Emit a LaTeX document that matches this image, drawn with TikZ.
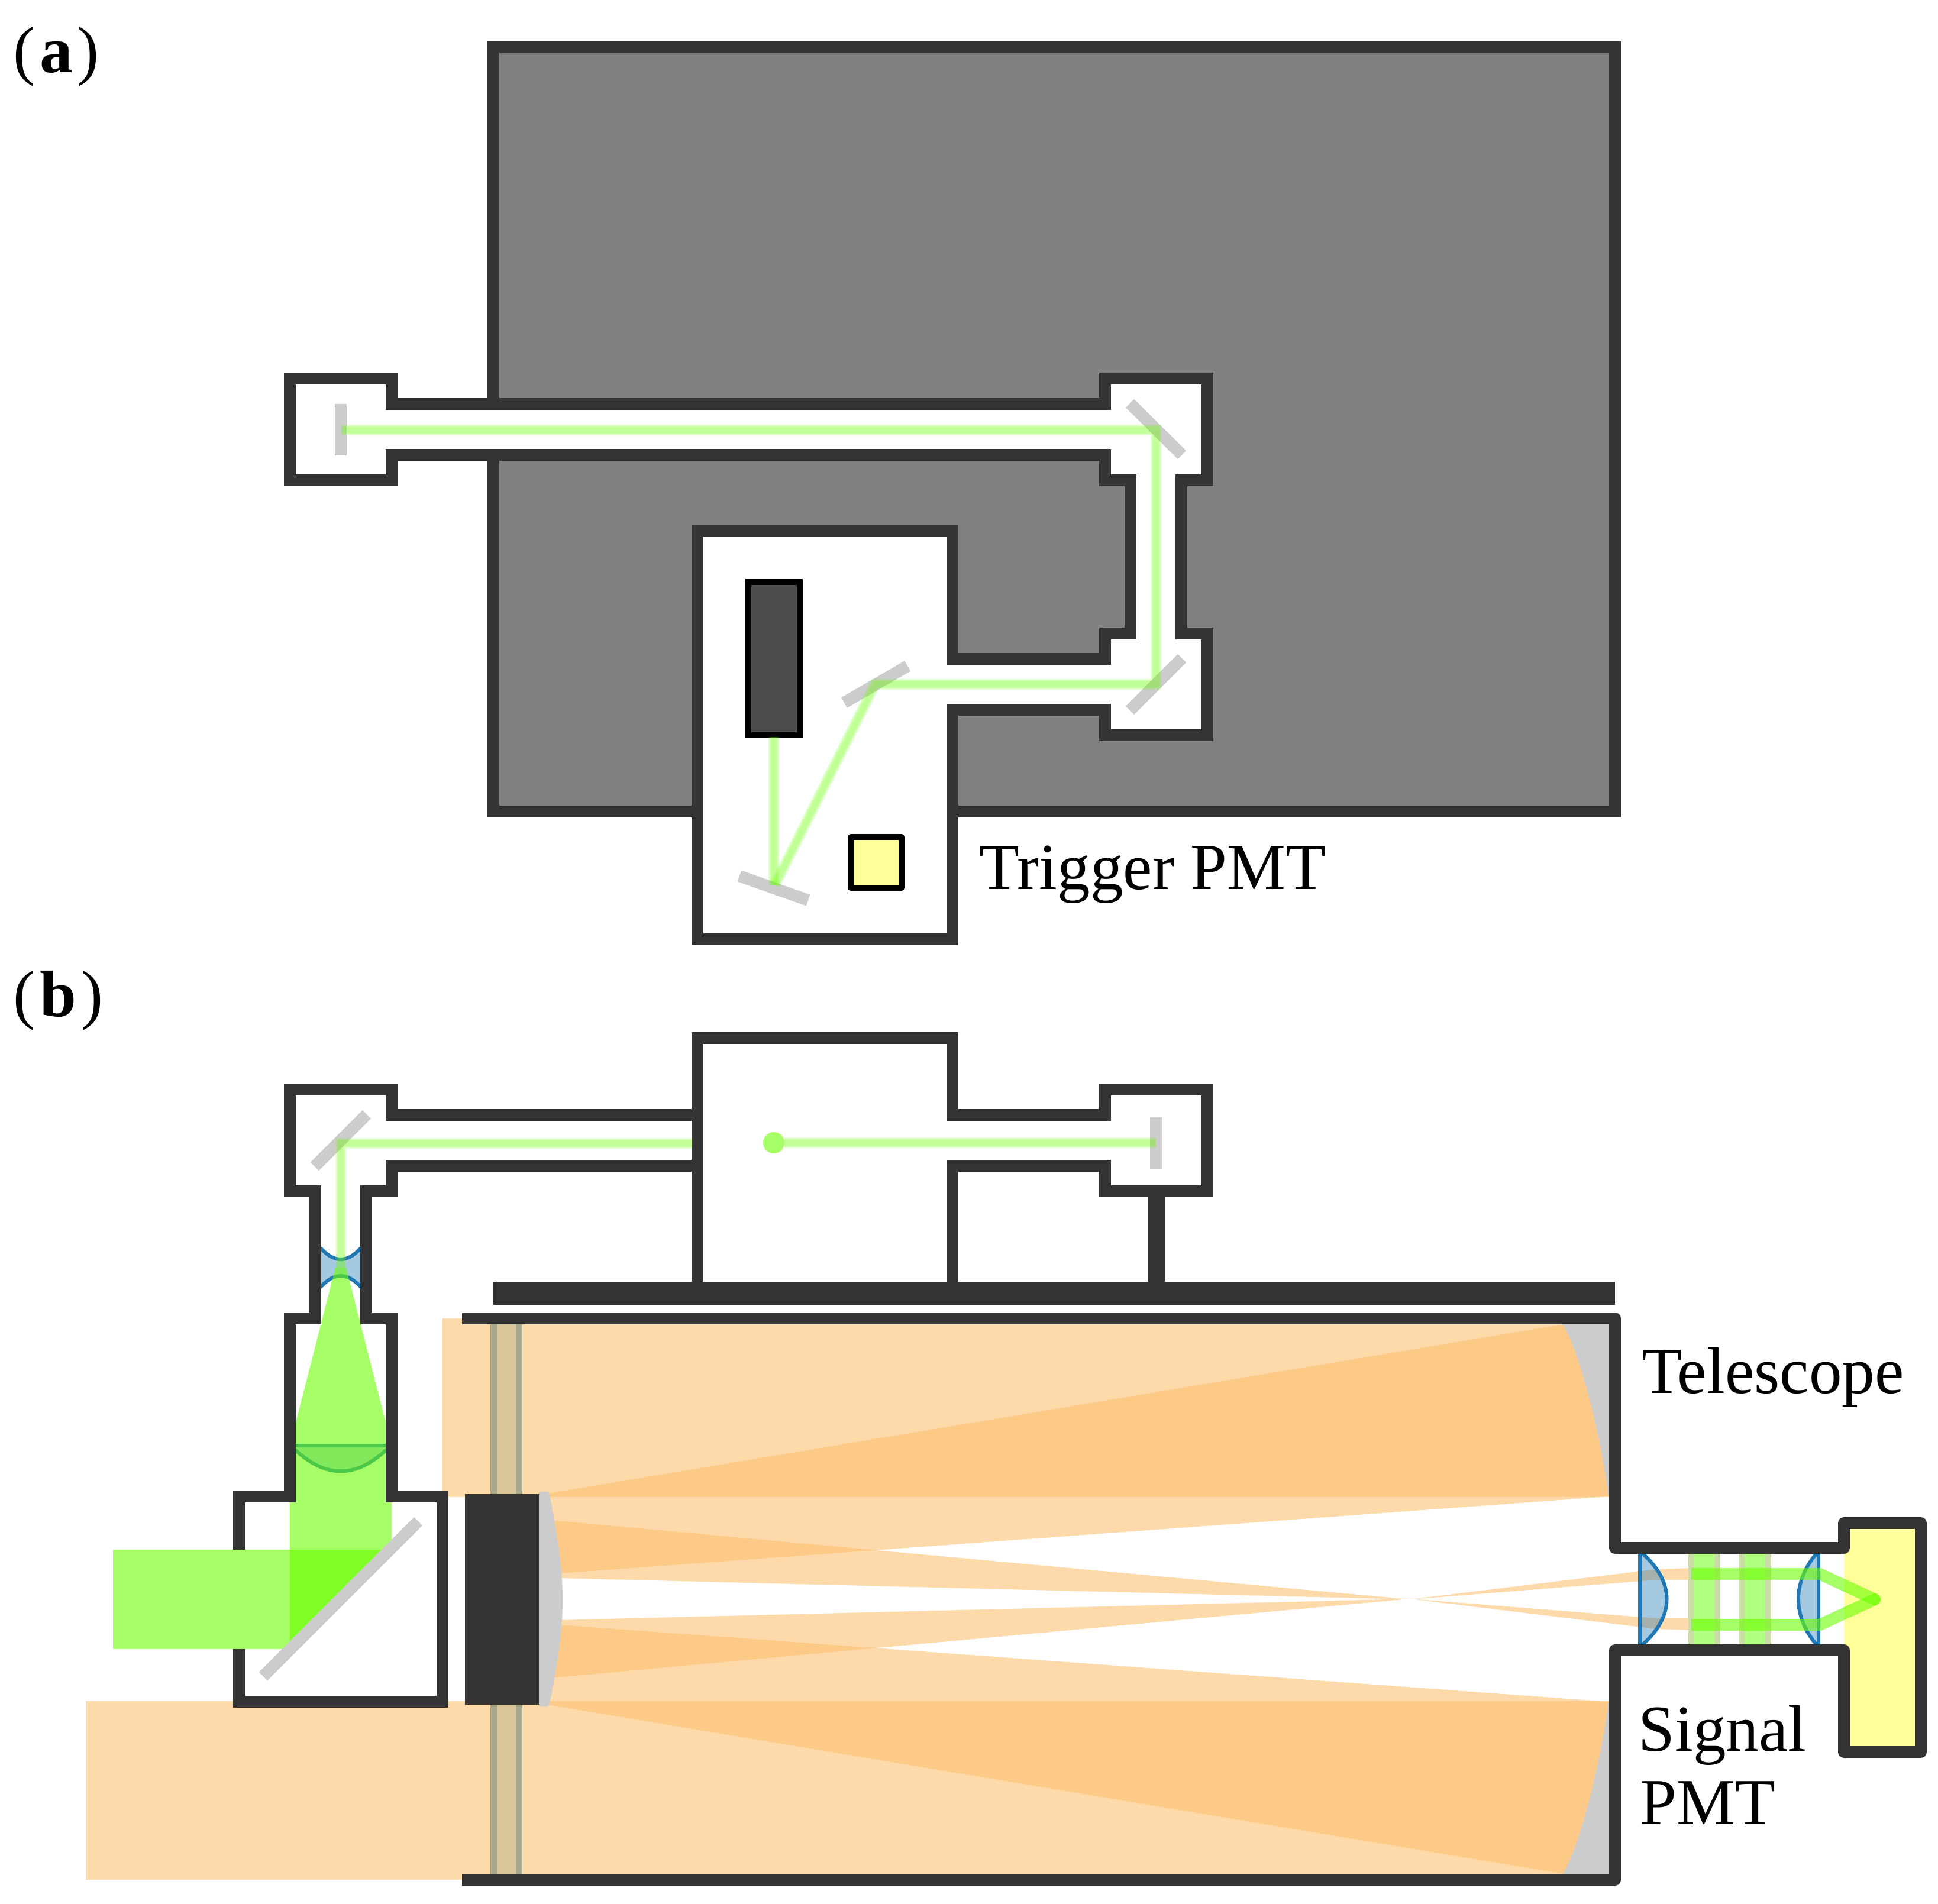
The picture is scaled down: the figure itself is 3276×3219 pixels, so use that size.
\documentclass[tikz,border=0pt]{standalone}
\usepackage{fontspec}
\setmainfont{Liberation Serif}

\definecolor{wallgray}{HTML}{333333}
\definecolor{mirrorgray}{HTML}{CCCCCC}
\definecolor{blockgray}{HTML}{808080}
\definecolor{lasergreen}{HTML}{6AFF00}
\definecolor{skyorange}{HTML}{FDBF6F}
\definecolor{lensblue}{HTML}{1F77B4}
\definecolor{pmtyellow}{HTML}{FFFF99}
\definecolor{plateedge}{HTML}{A6A68A}
\definecolor{platecore}{HTML}{D9C59A}
\definecolor{filteredge}{HTML}{C8DEA6}
\definecolor{filtercore}{HTML}{B0FF7F}

\tikzset{
  wall/.style={wallgray,line width=2mm,miter limit=10},
  mirror/.style={mirrorgray,line width=2mm},
  beamfill/.style={fill=lasergreen,fill opacity=0.6},
  thinline/.style={lasergreen,draw opacity=0.12},
  skyfill/.style={fill=skyorange,fill opacity=0.6},
  lens/.style={draw=lensblue,fill=lensblue,fill opacity=0.4,line width=0.6mm},
  pmtbox/.style={draw=black,line width=1mm},
  lbl/.style={font=\fontsize{31.6}{35.2}\selectfont,inner sep=0pt,anchor=base west},
}
\newcommand{\thinbeam}[1]{\foreach \w in {1.9,1.6,1.3,1.0}{\draw[thinline,line width=\w mm] #1;}}

\begin{document}
\begin{tikzpicture}[x=0.01cm,y=-0.01cm]
\useasboundingbox (0,0) rectangle (3276,3219);

% part a
\draw[wall,fill=blockgray] (834,80) rectangle (2730,1372);
\draw[wall,fill=white] (490,640) -- (662,640) -- (662,683) -- (1868,683) -- (1868,640) -- (2041,640)
  -- (2041,812) -- (1997,812) -- (1997,1071) -- (2041,1071) -- (2041,1243) -- (1868,1243) -- (1868,1200)
  -- (1610,1200) -- (1610,1588) -- (1179,1588) -- (1179,898) -- (1610,898) -- (1610,1114) -- (1868,1114)
  -- (1868,1071) -- (1911,1071) -- (1911,812) -- (1868,812) -- (1868,769) -- (662,769) -- (662,812)
  -- (490,812) -- cycle;
\draw[mirror] (576,683) -- (576,770);
\draw[mirror] (1910,682) -- (1998,769);
\draw[mirror] (1910,1201) -- (1998,1113);
\draw[mirror] (1427,1188) -- (1534,1126);
\draw[mirror] (1250,1481) -- (1366,1522);
\draw[pmtbox,fill=black!70] (1265,984) rectangle (1352,1243);
\draw[pmtbox,fill=pmtyellow,line join=round] (1438,1415) rectangle (1524,1501);
\thinbeam{(577,727) -- (1954,727) -- (1954,1157) -- (1479,1157) -- (1310,1496)}
\thinbeam{(1308,1246) -- (1308,1496)}
\node[lbl] (trigger) at (1655,1503) {Trigger PMT};
\node[lbl] (parta) at (22,123) {(\kern.07em\textbf{a}\kern.07em)};

% part b, light in the telescope
\fill[skyfill] (748,2229) rectangle (2730,2531);
\fill[skyfill] (145,2876) rectangle (2730,3178);
\foreach \s/\t in {1/0,-1/5407}{
  \begin{scope}[shift={(0,\t)},yscale=\s]
    \fill[skyfill] (2642,2239) .. controls (2672,2290) and (2706,2430) .. (2719,2530) -- (945,2660) -- (925,2525) -- cycle;
    \fill[skyfill] (930,2570) -- (2383,2704) -- (945,2668) -- cycle;
    \fill[skyfill] (2383,2704) -- (2800,2653) -- (2859,2651) -- (2859,2671) -- (2800,2671) -- cycle;
    \fill[mirrorgray] (2642,2239) .. controls (2672,2290) and (2706,2430) .. (2719,2530) -- (2730,2530) -- (2730,2239) -- cycle;
  \end{scope}
}
\fill[pmtyellow] (3117,2575) rectangle (3247,2962);

% corrector plate, secondary
\fill[plateedge] (829,2229) rectangle (883,3178);
\fill[platecore] (840,2229) rectangle (872,3178);
\draw[mirrorgray,fill=mirrorgray,line width=0.9mm,line join=round] (915,2526) -- (924,2526)
  .. controls (941,2610) and (946.5,2660) .. (946.5,2704) .. controls (946.5,2750) and (941,2800) .. (924,2881)
  -- (915,2881) -- cycle;
\fill[wallgray] (786,2526) rectangle (911,2882);

% filters and lenses in the tube
\foreach \x in {2854,2940}{
  \fill[filteredge] (\x,2627) rectangle (\x+53.5,2780);
  \fill[filtercore] (\x+10,2627) rectangle (\x+43.5,2780);
}
\draw[lens] (2772,2627) -- (2777,2627) .. controls (2831,2675) and (2831,2732) .. (2777,2780) -- (2772,2780) -- cycle;
\draw[lens] (3074,2627) -- (3070,2627) .. controls (3030,2675) and (3030,2732) .. (3070,2780) -- (3074,2780) -- cycle;
\begin{scope}
  \clip (2859,2600) rectangle (3200,2800);
  \draw[lasergreen,draw opacity=0.6,line width=2mm,line cap=round] (2859,2661) -- (3076,2661) -- (3169,2704);
  \draw[lasergreen,draw opacity=0.6,line width=2mm,line cap=round] (2859,2747) -- (3076,2747) -- (3169,2704);
\end{scope}

% lenses and laser on the left
\draw[lens] (533,2111) -- (543,2111) .. controls (565,2135) and (587,2135) .. (609,2111) -- (619,2111) -- (619,2175)
  -- (609,2175) .. controls (587,2151) and (565,2151) .. (543,2175) -- (533,2175) -- cycle;
\draw[lens] (490,2444) -- (662,2444) -- (662,2452) -- (652,2452) .. controls (601,2499) and (551,2499) .. (500,2452) -- (490,2452) -- cycle;
\fill[beamfill] (191,2620) -- (645,2620) -- (477,2788) -- (191,2788) -- cycle;
\fill[beamfill] (490,2775) -- (490,2444) -- (567,2143) -- (585,2143) -- (662,2444) -- (662,2603) -- cycle;
\draw[mirror] (445,2834) -- (707,2572);
\draw[mirror] (532,1972) -- (620,1884);
\draw[mirror] (1954,1889) -- (1954,1976);
\thinbeam{(576,2143) -- (576,1933) -- (1172,1933)}
\thinbeam{(1326,1932) -- (1954,1932)}
\fill[lasergreen,fill opacity=0.6] (1308,1932) circle (18);

% part b, walls
\draw[wall] (404,2620) -- (404,2530) -- (490,2530) -- (490,2229) -- (533,2229) -- (533,2014) -- (490,2014)
  -- (490,1842) -- (662,1842) -- (662,1885) -- (1179,1885);
\draw[wall] (1179,1971) -- (662,1971) -- (662,2014) -- (619,2014) -- (619,2229) -- (662,2229) -- (662,2530)
  -- (748,2530) -- (748,2877) -- (404,2877) -- (404,2788);
\draw[wall] (1179,2170) -- (1179,1755) -- (1610,1755) -- (1610,1885) -- (1868,1885) -- (1868,1842) -- (2041,1842)
  -- (2041,2014) -- (1868,2014) -- (1868,1971) -- (1610,1971) -- (1610,2170);
\draw[wall,line width=2.9mm] (1954.5,2014) -- (1954.5,2170);
\fill[wallgray] (834,2167) rectangle (2730,2206);
\draw[wall,line join=round] (781,2229) -- (2730,2229) -- (2730,2617) -- (3117,2617) -- (3117,2575) -- (3247,2575)
  -- (3247,2962) -- (3117,2962) -- (3117,2790) -- (2730,2790) -- (2730,3178) -- (781,3178);

\node[lbl] (partb) at (22,1718) {(\kern.07em\textbf{b}\kern.07em)};
\node[lbl] (telescope) at (2775,2355) {Telescope};
\node[lbl] (signal) at (2769,2960) {Signal};
\node[lbl] (pmt) at (2772,3084) {PMT};
\end{tikzpicture}
\end{document}
